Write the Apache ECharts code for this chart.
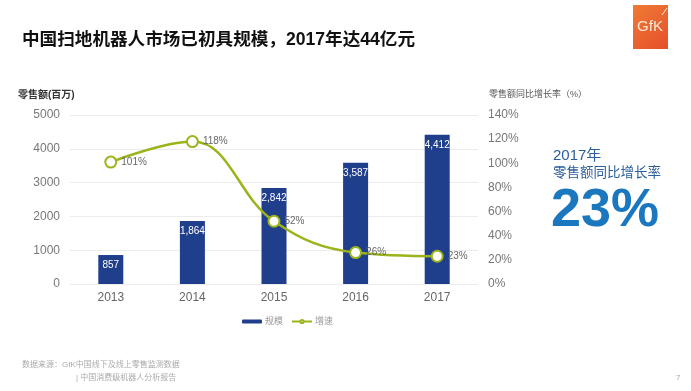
<!DOCTYPE html>
<html><head><meta charset="utf-8">
<script src="https://cdn.jsdelivr.net/npm/echarts@6/dist/echarts.min.js"></script>
<style>html,body{margin:0;padding:0;background:#fff}#c{width:691px;height:391px}</style>
</head><body><div id="c"></div>
<script>
var years = ['2013','2014','2015','2016','2017'];
var sales = [857, 1864, 2842, 3587, 4412];
var growth = [101, 118, 52, 26, 23];
var leftTicks = [0, 1000, 2000, 3000, 4000, 5000];
var rightTicks = [0, 20, 40, 60, 80, 100, 120, 140];
var seriesNames = ['规模', '增速'];

var chart = echarts.init(document.getElementById('c'));
var font = '"Liberation Sans", Arial, "Noto Sans CJK SC", sans-serif';
chart.setOption({
  animation: false,
  textStyle: { fontFamily: font },
  grid: { left: 70, right: 213, top: 115, bottom: 107 },
  legend: {
    data: seriesNames, left: 237, top: 312, itemGap: 8,
    itemWidth: 20, itemHeight: 4,
    textStyle: { color: '#999', fontSize: 9, padding: [0,0,0,-2] }
  },
  xAxis: {
    type: 'category', data: years,
    axisLine: { show: false }, axisTick: { show: false },
    axisLabel: { color: '#666', fontSize: 12, margin: 8 }
  },
  yAxis: [{
    type: 'value', min: leftTicks[0], max: leftTicks[leftTicks.length-1], interval: 1000,
    axisLine: { show: false }, axisTick: { show: false },
    axisLabel: { color: '#777', fontSize: 12, margin: 10, formatter: function(v){ return String(v); } },
    splitLine: { lineStyle: { color: '#ececec' } }
  }, {
    type: 'value', min: rightTicks[0], max: rightTicks[rightTicks.length-1], interval: 20,
    axisLine: { show: false }, axisTick: { show: false },
    axisLabel: { color: '#777', fontSize: 12, margin: 10, formatter: '{value}%' },
    splitLine: { show: false }
  }],
  series: [{
    name: seriesNames[0], type: 'bar', data: sales, barWidth: 25,
    itemStyle: { color: '#1f3e8b' },
    label: { show: true, position: 'insideTop', color: '#fff', fontSize: 10, distance: 5,
      formatter: function(p){ return p.value.toLocaleString('en-US'); } }
  }, {
    name: seriesNames[1], type: 'line', yAxisIndex: 1, data: growth, smooth: 0.4,
    symbol: 'emptyCircle', symbolSize: 11,
    lineStyle: { color: '#9cb41c', width: 2.5 },
    itemStyle: { color: '#9cb41c', borderWidth: 2.5 },
    label: { show: true, position: 'right', color: '#666', fontSize: 10, distance: 4, formatter: '{c}%' }
  }],
  graphic: [
    { type: 'text', left: 22, top: 31, style: { text: '中国扫地机器人市场已初具规模，2017年达44亿元', fill: '#111', font: 'bold 17.6px ' + font } },
    { type: 'rect', left: 633, top: 5, shape: { width: 35, height: 44 },
      style: { fill: new echarts.graphic.LinearGradient(0,0,1,1,[{offset:0,color:'#f07a35'},{offset:1,color:'#e5502a'}]) } },
    { type: 'text', x: 650, y: 27, style: { text: 'GfK', fill: '#fde8d6', align: 'center', verticalAlign: 'middle', font: '15px "Liberation Sans Narrow", Arial, sans-serif' } },
    { type: 'line', shape: { x1: 662, y1: 15, x2: 667, y2: 8 }, style: { stroke: '#fde8d6', lineWidth: 1 } },
    { type: 'text', left: 18, top: 90, style: { text: '零售额(百万)', fill: '#333', font: 'bold 10px ' + font } },
    { type: 'text', left: 489, top: 90, style: { text: '零售额同比增长率（%）', fill: '#555', font: '9px ' + font } },
    { type: 'text', left: 553, top: 148, style: { text: '2017年', fill: '#2a5e9c', font: '15px ' + font } },
    { type: 'text', left: 553, top: 167, style: { text: '零售额同比增长率', fill: '#2a5e9c', font: '13.5px ' + font } },
    { type: 'text', left: 551, top: 184, style: { text: '23%', fill: '#1b78bf', font: 'bold 54px "Liberation Sans", Arial, sans-serif' } },
    { type: 'text', left: 22, top: 361, style: { text: '数据来源：GfK中国线下及线上零售监测数据', fill: '#aaa', font: '8px ' + font } },
    { type: 'text', left: 76, top: 374, style: { text: '| 中国消费级机器人分析报告', fill: '#aaa', font: '8px ' + font } },
    { type: 'text', left: 676, top: 374, style: { text: '7', fill: '#aaa', font: '8px ' + font } }
  ]
});
</script></body></html>
